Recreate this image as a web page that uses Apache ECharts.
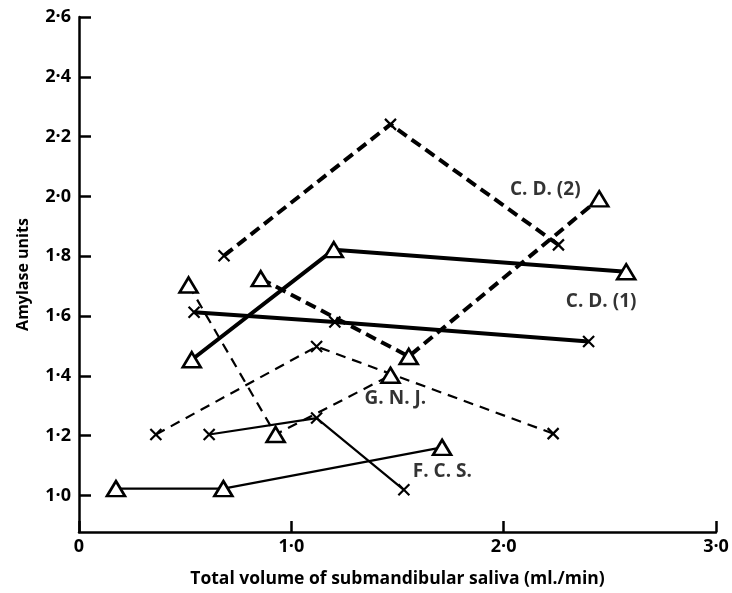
<!DOCTYPE html>
<html>
<head>
<meta charset="utf-8">
<script src="https://cdn.jsdelivr.net/npm/echarts@6/dist/echarts.min.js"></script>
<style>
  html, body { margin: 0; padding: 0; background: #fff; }
  #chart { width: 732px; height: 593px; }
</style>
</head>
<body>
<div id="chart"></div>
<script>
// Saliva flow (ml./min) vs amylase units, four subjects, two conditions each
const cd2Cross = [[0.683, 1.802], [1.467, 2.241], [2.258, 1.838]];
const cd2Tri   = [[0.856, 1.725], [1.553, 1.465], [2.450, 1.992]];
const cd1Tri   = [[0.531, 1.454], [1.200, 1.822], [2.577, 1.748]];
const cd1Cross = [[0.542, 1.613], [1.205, 1.580], [2.400, 1.515]];
const gnjTri   = [[0.516, 1.704], [0.926, 1.204], [1.467, 1.402]];
const gnjCross = [[0.362, 1.204], [1.119, 1.498], [2.233, 1.207]];
const fcsTri   = [[0.174, 1.023], [0.680, 1.023], [1.710, 1.161]];
const fcsCross = [[0.613, 1.204], [1.119, 1.259], [1.530, 1.019]];

// Subject labels and where they sit in data space
const subjectNames = ['C. D. (2)', 'C. D. (1)', 'G. N. J.', 'F. C. S.'];
const subjectLabelPos = [[2.196, 2.024], [2.459, 1.649], [1.490, 1.323], [1.711, 1.079]];

const yTicks = [1.0, 1.2, 1.4, 1.6, 1.8, 2.0, 2.2, 2.4, 2.6];
const xTicks = [0, 1, 2, 3];

const FONT = '"Open Sans"';
const fmt = v => (v === 0 ? '0' : v.toFixed(1).replace('.', '\u00b7'));

const CROSS = 'path://M0,0L10,10M10,0L0,10';

function seriesOf(data, marker, width, dash) {
  const isTri = marker === 'tri';
  return {
    type: 'line',
    data: data,
    symbol: isTri ? 'triangle' : CROSS,
    symbolSize: isTri ? [18, 15] : 11,
    showSymbol: true,
    lineStyle: { color: '#000', width: width, type: dash || 'solid' },
    itemStyle: {
      color: isTri ? '#fff' : 'rgba(0,0,0,0)',
      borderColor: '#000',
      borderWidth: isTri ? 2.6 : 2.2
    },
    z: isTri ? 3 : 2,
    silent: true
  };
}

const series = [
  seriesOf(cd2Cross, 'cross', 4, [11, 6]),
  seriesOf(cd2Tri, 'tri', 4, [11, 6]),
  seriesOf(cd1Tri, 'tri', 4),
  seriesOf(cd1Cross, 'cross', 4),
  seriesOf(gnjTri, 'tri', 2.2, [10, 7]),
  seriesOf(gnjCross, 'cross', 2.2, [10, 7]),
  seriesOf(fcsTri, 'tri', 2.2),
  seriesOf(fcsCross, 'cross', 2.2),
  {
    type: 'scatter',
    data: subjectLabelPos.map((p, i) => ({ value: p, name: subjectNames[i] })),
    symbolSize: 1,
    itemStyle: { color: 'rgba(0,0,0,0)' },
    label: {
      show: true,
      position: 'inside',
      formatter: p => p.name,
      color: '#000',
      fontFamily: FONT,
      fontWeight: 'bold',
      fontSize: 19
    },
    z: 5,
    silent: true
  }
];

const chart = echarts.init(document.getElementById('chart'), null, { renderer: 'canvas' });
chart.setOption({
  animation: false,
  backgroundColor: '#fff',
  grid: { left: 79, right: 16, top: 17, bottom: 53, containLabel: false },
  xAxis: {
    type: 'value',
    min: 0,
    max: 3,
    interval: 1,
    name: 'Total volume of submandibular saliva (ml./min)',
    nameLocation: 'middle',
    nameGap: 38,
    nameTextStyle: { color: '#000', fontFamily: FONT, fontWeight: 'bold', fontSize: 17.5 },
    axisLine: { show: true, onZero: false, lineStyle: { color: '#000', width: 2.5 } },
    axisTick: { show: true, inside: true, length: 11, lineStyle: { color: '#000', width: 2.5 }, customValues: xTicks },
    axisLabel: { color: '#000', fontFamily: FONT, fontWeight: 'bold', fontSize: 18, margin: 6, formatter: fmt, customValues: xTicks },
    splitLine: { show: false }
  },
  yAxis: {
    type: 'value',
    min: 0.878,
    max: 2.6,
    name: 'Amylase units',
    nameLocation: 'middle',
    nameRotate: 90,
    nameGap: 48,
    nameTextStyle: { color: '#000', fontFamily: FONT, fontWeight: 'bold', fontSize: 16 },
    axisLine: { show: true, onZero: false, lineStyle: { color: '#000', width: 2.5 } },
    axisTick: { show: true, inside: true, length: 12, lineStyle: { color: '#000', width: 2.5 }, customValues: yTicks },
    axisLabel: { color: '#000', fontFamily: FONT, fontWeight: 'bold', fontSize: 18, margin: 8, formatter: fmt, customValues: yTicks },
    splitLine: { show: false }
  },
  series: series
});
</script>
</body>
</html>
